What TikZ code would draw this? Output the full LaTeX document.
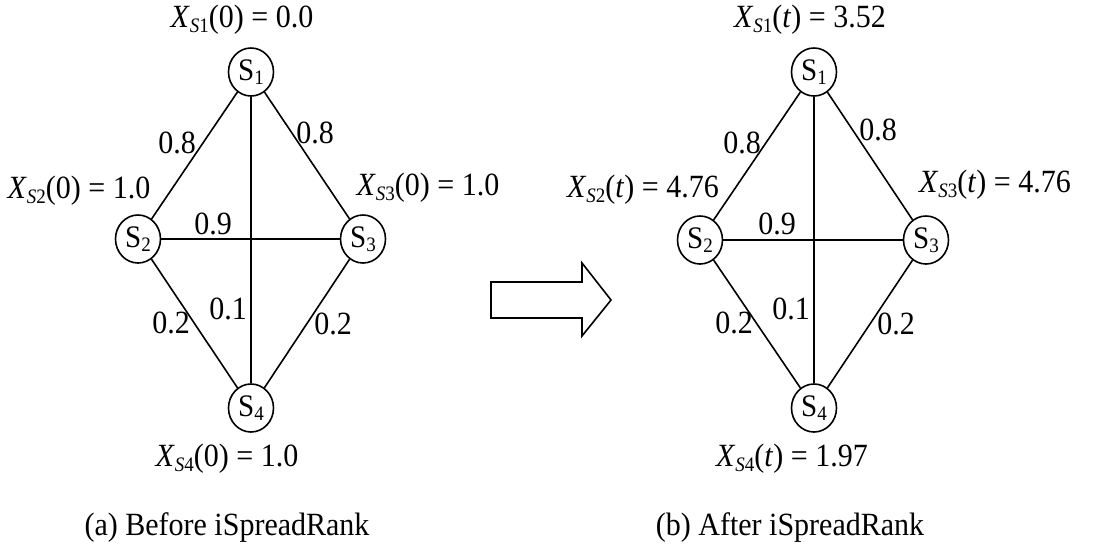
\documentclass[tikz,border=0pt]{standalone}
\usepackage{fontspec}
\usepackage{graphicx}
\usetikzlibrary{shapes.geometric}
\setmainfont{Liberation Serif}
\newcommand{\V}[1]{\scalebox{1}[1.08]{#1}}
\newcommand{\Xsub}[2]{\V{\textit{X}\raisebox{-0.14em}{\fontsize{19}{19}\selectfont\textit{S}#1}(#2)}}
\newcommand{\Sn}[1]{\V{S\raisebox{-0.14em}{\fontsize{19}{19}\selectfont #1}}}
\tikzset{
  snode/.style={ellipse,draw,line width=1.6pt,minimum width=45pt,minimum height=48pt,inner sep=0pt,font=\fontsize{29}{29}\selectfont},
  lbl/.style={inner sep=0pt,font=\fontsize{30}{30}\selectfont},
  edge/.style={line width=1.6pt},
}
\begin{document}
\begin{tikzpicture}[x=1pt,y=-1pt]
\useasboundingbox (0,0) rectangle (1115,552);
% left graph
\node[snode] (a1) at (251,72) {\Sn{1}};
\node[snode] (a2) at (138,239) {\Sn{2}};
\node[snode] (a3) at (363,239) {\Sn{3}};
\node[snode] (a4) at (251,408) {\Sn{4}};
\draw[edge] (a1) -- (a2);
\draw[edge] (a1) -- (a3);
\draw[edge] (a2) -- (a3);
\draw[edge] (a1) -- (a4);
\draw[edge] (a2) -- (a4);
\draw[edge] (a3) -- (a4);
\node[lbl] (la1) at (242,20) {\Xsub{1}{0} \V{= 0.0}};
\node[lbl] (la2) at (79,191) {\Xsub{2}{0} \V{= 1.0}};
\node[lbl] (la3) at (428,188) {\Xsub{3}{0} \V{= 1.0}};
\node[lbl] (la4) at (227,459) {\Xsub{4}{0} \V{= 1.0}};
\node[lbl] (wa12) at (177,143) {\V{0.8}};
\node[lbl] (wa13) at (315,133) {\V{0.8}};
\node[lbl] (wa23) at (213,224) {\V{0.9}};
\node[lbl] (wa14) at (228,309) {\V{0.1}};
\node[lbl] (wa24) at (171,323) {\V{0.2}};
\node[lbl] (wa34) at (333,324) {\V{0.2}};
\node[lbl] (capa) at (227,528) {\V{(a) Before iSpreadRank}};
% arrow
\draw[line width=1.6pt,line join=miter] (491,282) -- (582,282) -- (582,263) -- (611,300) -- (582,336) -- (582,318) -- (491,318) -- cycle;
% right graph
\node[snode] (b1) at (814,72) {\Sn{1}};
\node[snode] (b2) at (700,240) {\Sn{2}};
\node[snode] (b3) at (926,240) {\Sn{3}};
\node[snode] (b4) at (814,408) {\Sn{4}};
\draw[edge] (b1) -- (b2);
\draw[edge] (b1) -- (b3);
\draw[edge] (b2) -- (b3);
\draw[edge] (b1) -- (b4);
\draw[edge] (b2) -- (b4);
\draw[edge] (b3) -- (b4);
\node[lbl] (lb1) at (810,20) {\Xsub{1}{\textit{t}} \V{= 3.52}};
\node[lbl] (lb2) at (643,190) {\Xsub{2}{\textit{t}} \V{= 4.76}};
\node[lbl] (lb3) at (995,185) {\Xsub{3}{\textit{t}} \V{= 4.76}};
\node[lbl] (lb4) at (792,459) {\Xsub{4}{\textit{t}} \V{= 1.97}};
\node[lbl] (wb12) at (742,143) {\V{0.8}};
\node[lbl] (wb13) at (878,130) {\V{0.8}};
\node[lbl] (wb23) at (777,224) {\V{0.9}};
\node[lbl] (wb14) at (791,309) {\V{0.1}};
\node[lbl] (wb24) at (734,323) {\V{0.2}};
\node[lbl] (wb34) at (896,324) {\V{0.2}};
\node[lbl] (capb) at (790,528) {\V{(b) After iSpreadRank}};
\end{tikzpicture}
\end{document}
